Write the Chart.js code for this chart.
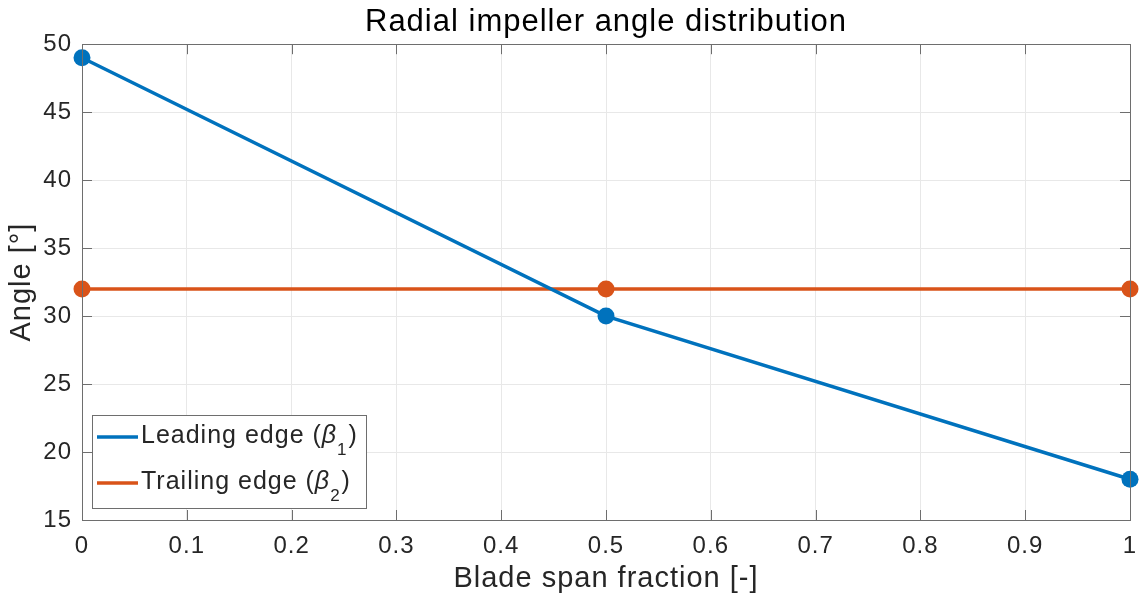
<!DOCTYPE html>
<html>
<head>
<meta charset="utf-8">
<script src="https://cdn.jsdelivr.net/npm/chart.js@4.4.1/dist/chart.umd.min.js"></script>
<style>
  html, body { margin: 0; padding: 0; background: #fff; }
  #wrap { width: 1141px; height: 598px; }
</style>
</head>
<body>
<div id="wrap"><canvas id="angleChart" width="1141" height="598"></canvas></div>
<script>
// data
const spanFraction = [0, 0.5, 1];
const leadingEdge = [49, 30, 18];
const trailingEdge = [32, 32, 32];
const seriesNames = ['Leading edge (', 'Trailing edge ('];
const seriesSubs = ['1', '2'];

const BLUE = '#0072BD';
const ORANGE = '#D95319';
const TEXT = '#262626';
const AXIS = '#6e6e6e';
const FONT = "'Liberation Sans', Arial, sans-serif";

function toPoints(ys) {
    return spanFraction.map(function(x, i) { return { x: x, y: ys[i] }; });
}

// slightly wider tracking, closer to the original's font
const spacingPlugin = {
    id: 'spacing',
    beforeLayout: function(chart) { chart.ctx.letterSpacing = '1px'; },
    beforeDraw: function(chart) { chart.ctx.letterSpacing = '1px'; }
};

// box + inward ticks, MATLAB style
const boxPlugin = {
    id: 'boxTicks',
    afterDatasetsDraw: function(chart) {
        const ctx = chart.ctx;
        const a = chart.chartArea;
        const xs = chart.scales.x, ys = chart.scales.y;
        const len = 10;
        ctx.save();
        ctx.strokeStyle = AXIS;
        ctx.lineWidth = 1;
        ctx.beginPath();
        xs.ticks.forEach(function(t) {
            const px = Math.round(xs.getPixelForValue(t.value)) + 0.5;
            ctx.moveTo(px, a.bottom); ctx.lineTo(px, a.bottom - len);
            ctx.moveTo(px, a.top); ctx.lineTo(px, a.top + len);
        });
        ys.ticks.forEach(function(t) {
            const py = Math.round(ys.getPixelForValue(t.value)) + 0.5;
            ctx.moveTo(a.left, py); ctx.lineTo(a.left + len, py);
            ctx.moveTo(a.right, py); ctx.lineTo(a.right - len, py);
        });
        ctx.stroke();
        ctx.strokeRect(Math.round(a.left) + 0.5, Math.round(a.top) + 0.5,
            Math.round(a.right - a.left), Math.round(a.bottom - a.top));
        ctx.restore();
    }
};

// legend box inside the axes, lower left
const legendPlugin = {
    id: 'innerLegend',
    afterDraw: function(chart) {
        const ctx = chart.ctx;
        const a = chart.chartArea;
        const colors = [BLUE, ORANGE];
        const x0 = a.left + 10, y0 = 415, w = 274, h = 93;
        ctx.save();
        ctx.fillStyle = '#fff';
        ctx.fillRect(x0, y0, w, h);
        ctx.strokeStyle = AXIS;
        ctx.lineWidth = 1;
        ctx.strokeRect(x0 + 0.5, y0 + 0.5, w, h);
        for (let i = 0; i < 2; i++) {
            const cy = y0 + 21 + i * 46;
            ctx.strokeStyle = colors[i];
            ctx.lineWidth = 3.5;
            ctx.beginPath();
            ctx.moveTo(x0 + 5, cy + 1);
            ctx.lineTo(x0 + 46, cy + 1);
            ctx.stroke();
            ctx.fillStyle = TEXT;
            ctx.textBaseline = 'middle';
            let tx = x0 + 49;
            ctx.font = '25px ' + FONT;
            ctx.fillText(seriesNames[i], tx, cy);
            tx += ctx.measureText(seriesNames[i]).width;
            ctx.font = 'italic 25px ' + FONT;
            ctx.fillText('\u03B2', tx, cy);
            tx += ctx.measureText('\u03B2').width;
            ctx.font = '17px ' + FONT;
            ctx.fillText(seriesSubs[i], tx, cy + 14);
            tx += ctx.measureText(seriesSubs[i]).width + 1;
            ctx.font = '25px ' + FONT;
            ctx.fillText(')', tx, cy);
        }
        ctx.restore();
    }
};

new Chart(document.getElementById('angleChart'), {
    type: 'line',
    data: {
        datasets: [
            {
                label: 'Leading edge',
                data: toPoints(leadingEdge),
                borderColor: BLUE,
                backgroundColor: BLUE,
                borderWidth: 3.5,
                pointRadius: 8.5,
                pointBorderWidth: 0,
                tension: 0
            },
            {
                label: 'Trailing edge',
                data: toPoints(trailingEdge),
                borderColor: ORANGE,
                backgroundColor: ORANGE,
                borderWidth: 3.5,
                pointRadius: 8.5,
                pointBorderWidth: 0,
                tension: 0
            }
        ]
    },
    options: {
        responsive: false,
        animation: false,
        clip: false,
        layout: { padding: { right: 11 } },
        plugins: {
            legend: { display: false },
            tooltip: { enabled: false },
            title: {
                display: true,
                fullSize: false,
                text: 'Radial impeller angle distribution',
                color: '#000',
                font: { family: FONT, size: 31, weight: 'normal', lineHeight: 1.2 },
                padding: { top: 4, bottom: 3 }
            }
        },
        scales: {
            x: {
                type: 'linear',
                min: 0,
                max: 1,
                afterFit: function(s) {
                    s.height = 78;
                    s.paddingLeft = 0;
                    s.paddingRight = 0;
                },
                grid: { color: '#e8e8e8', drawTicks: false },
                border: { display: false },
                ticks: {
                    stepSize: 0.1,
                    color: TEXT,
                    padding: 12,
                    font: { family: FONT, size: 24 },
                    callback: function(v) { return Math.round(v * 10) / 10; }
                },
                title: {
                    display: true,
                    text: 'Blade span fraction [-]',
                    color: TEXT,
                    font: { family: FONT, size: 29 },
                    padding: { top: 0, bottom: 2 }
                }
            },
            y: {
                min: 15,
                max: 50,
                afterFit: function(s) { s.width = 82; },
                grid: { color: '#e8e8e8', drawTicks: false },
                border: { display: false },
                ticks: {
                    stepSize: 5,
                    color: TEXT,
                    padding: 10,
                    font: { family: FONT, size: 24 }
                },
                title: {
                    display: true,
                    text: 'Angle [\u00B0]',
                    color: TEXT,
                    font: { family: FONT, size: 29 },
                    padding: { top: 5, bottom: 0 }
                }
            }
        }
    },
    plugins: [spacingPlugin, boxPlugin, legendPlugin]
});
</script>
</body>
</html>
